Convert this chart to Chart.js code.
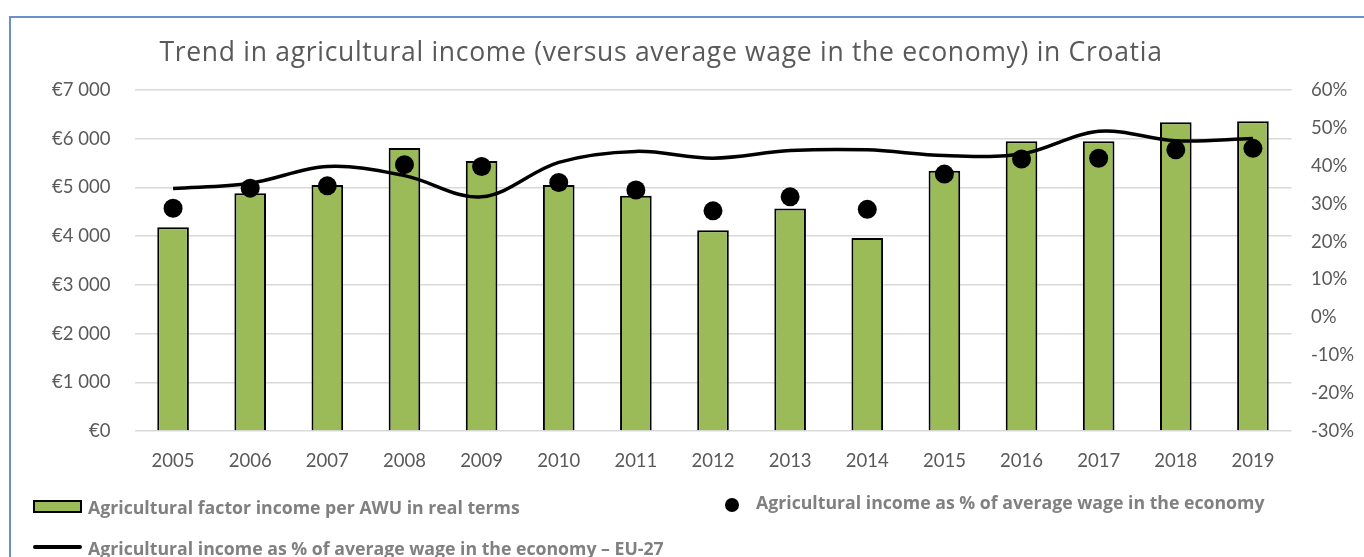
<!DOCTYPE html>
<html lang="en">
<head>
<meta charset="utf-8">
<title>Trend in agricultural income in Croatia</title>
<script src="https://cdn.jsdelivr.net/npm/chart.js@4.4.0/dist/chart.umd.min.js"></script>
<style>
    html, body {
        margin: 0;
        padding: 0;
        background: #ffffff;
        overflow: hidden;
    }
    #wrap {
        position: relative;
        width: 1364px;
        height: 557px;
        font-family: 'Lato', 'Open Sans', sans-serif;
    }
    #frame {
        position: absolute;
        left: 9px;
        top: 16px;
        width: 2000px;
        height: 2000px;
        border-left: 2px solid #6a8fcb;
        border-top: 2px solid #6a8fcb;
    }
    #chart {
        position: absolute;
        left: 0;
        top: 0;
    }
    #chart-title {
        position: absolute;
        left: 0;
        width: 1322px;
        top: 36px;
        text-align: center;
        font-family: 'Open Sans', sans-serif;
        font-size: 26.5px;
        letter-spacing: 0.7px;
        line-height: 1.2;
        color: #595959;
        white-space: nowrap;
    }
    .legend-text {
        position: absolute;
        font-family: 'Open Sans', sans-serif;
        font-size: 17.7px;
        font-weight: bold;
        line-height: 1.2;
        color: #808080;
        white-space: nowrap;
    }
    .legend-box {
        position: absolute;
        left: 33px;
        top: 500px;
        width: 49px;
        height: 13px;
        box-sizing: border-box;
        background: #9bbb59;
        border: 2px solid #000000;
    }
    .legend-dot {
        position: absolute;
        left: 725px;
        top: 498px;
        width: 14px;
        height: 14px;
        border-radius: 50%;
        background: #000000;
    }
    .legend-line {
        position: absolute;
        left: 33px;
        top: 545px;
        width: 49px;
        height: 4px;
        border-radius: 2px;
        background: #000000;
    }
</style>
</head>
<body>
<div id="wrap">
    <div id="frame"></div>
    <canvas id="chart" width="1364" height="557"></canvas>
    <div id="chart-title">Trend in agricultural income (versus average wage in the economy) in Croatia</div>

    <div class="legend-box"></div>
    <div class="legend-text" style="left:88px; top:497px;">Agricultural factor income per AWU in real terms</div>

    <div class="legend-dot"></div>
    <div class="legend-text" style="left:756px; top:492px;">Agricultural income as % of average wage in the economy</div>

    <div class="legend-line"></div>
    <div class="legend-text" style="left:88px; top:538px;">Agricultural income as % of average wage in the economy – EU-27</div>
</div>

<script>
// Years on the category axis
const years = ['2005', '2006', '2007', '2008', '2009', '2010', '2011', '2012',
               '2013', '2014', '2015', '2016', '2017', '2018', '2019'];

// Agricultural factor income per AWU in real terms (EUR)
const incomePerAwu = [4180, 4880, 5050, 5810, 5540, 5050, 4830, 4120,
                      4570, 3960, 5340, 5950, 5950, 6340, 6360];

// Agricultural income as % of average wage - Croatia
const croatiaShare = [28.8, 34.1, 34.7, 40.3, 39.8, 35.6, 33.6, 28.1,
                      31.8, 28.5, 37.8, 41.8, 42.0, 44.2, 44.6];

// Agricultural income as % of average wage - EU-27
const euShare = [34.0, 35.4, 39.8, 37.4, 31.8, 40.9, 43.8, 42.0,
                 44.0, 44.2, 42.7, 43.1, 49.1, 46.6, 47.2];

// Axis ranges
const euroAxis = { min: 0, max: 7000, step: 1000 };
const shareAxis = { min: -30, max: 60, step: 10 };

const tickColor = '#595959';
const gridColor = '#d9d9d9';

Chart.defaults.font.family = "'Lato', 'Open Sans', sans-serif";

// Format euro ticks like "€7 000"
function formatEuro(value) {
    if (value === 0) {
        return '€0';
    }
    return '€' + (value / 1000) + '\u00a0000';
}

function buildChart() {
    const ctx = document.getElementById('chart').getContext('2d');

    return new Chart(ctx, {
        data: {
            labels: years,
            datasets: [
                {
                    type: 'line',
                    label: 'Agricultural income as % of average wage in the economy',
                    data: croatiaShare,
                    yAxisID: 'y1',
                    showLine: false,
                    pointRadius: 9.5,
                    pointBackgroundColor: '#000000',
                    pointBorderWidth: 0,
                    order: 1
                },
                {
                    type: 'line',
                    label: 'Agricultural income as % of average wage in the economy – EU-27',
                    data: euShare,
                    yAxisID: 'y1',
                    borderColor: '#000000',
                    borderWidth: 3.5,
                    tension: 0.35,
                    pointRadius: 0,
                    fill: false,
                    order: 2
                },
                {
                    type: 'bar',
                    label: 'Agricultural factor income per AWU in real terms',
                    data: incomePerAwu,
                    yAxisID: 'y',
                    backgroundColor: '#9bbb59',
                    borderColor: '#000000',
                    borderWidth: 2,
                    categoryPercentage: 1,
                    barPercentage: 0.41,
                    order: 3
                }
            ]
        },
        options: {
            responsive: false,
            animation: false,
            layout: {
                padding: { top: 90, left: 0, right: 0, bottom: 0 }
            },
            plugins: {
                legend: { display: false },
                title: { display: false },
                tooltip: { enabled: false }
            },
            scales: {
                x: {
                    offset: true,
                    grid: { display: false },
                    border: { display: false },
                    ticks: {
                        color: tickColor,
                        padding: 11,
                        font: { size: 18.5 }
                    },
                    afterFit: function(scale) {
                        scale.height = 126;
                    }
                },
                y: {
                    position: 'left',
                    min: euroAxis.min,
                    max: euroAxis.max,
                    grid: {
                        color: gridColor,
                        lineWidth: 1.5,
                        drawTicks: false
                    },
                    border: { display: false },
                    ticks: {
                        stepSize: euroAxis.step,
                        color: tickColor,
                        padding: 24,
                        font: { size: 18.5 },
                        callback: formatEuro
                    },
                    afterFit: function(scale) {
                        scale.width = 134.5;
                    }
                },
                y1: {
                    position: 'right',
                    min: shareAxis.min,
                    max: shareAxis.max,
                    grid: { display: false, drawTicks: false },
                    border: { display: false },
                    ticks: {
                        stepSize: shareAxis.step,
                        color: tickColor,
                        padding: 19.5,
                        font: { size: 18.5 },
                        callback: function(value) {
                            return value + '%';
                        }
                    },
                    afterFit: function(scale) {
                        scale.width = 72.5;
                    }
                }
            }
        }
    });
}

buildChart();
</script>
</body>
</html>
